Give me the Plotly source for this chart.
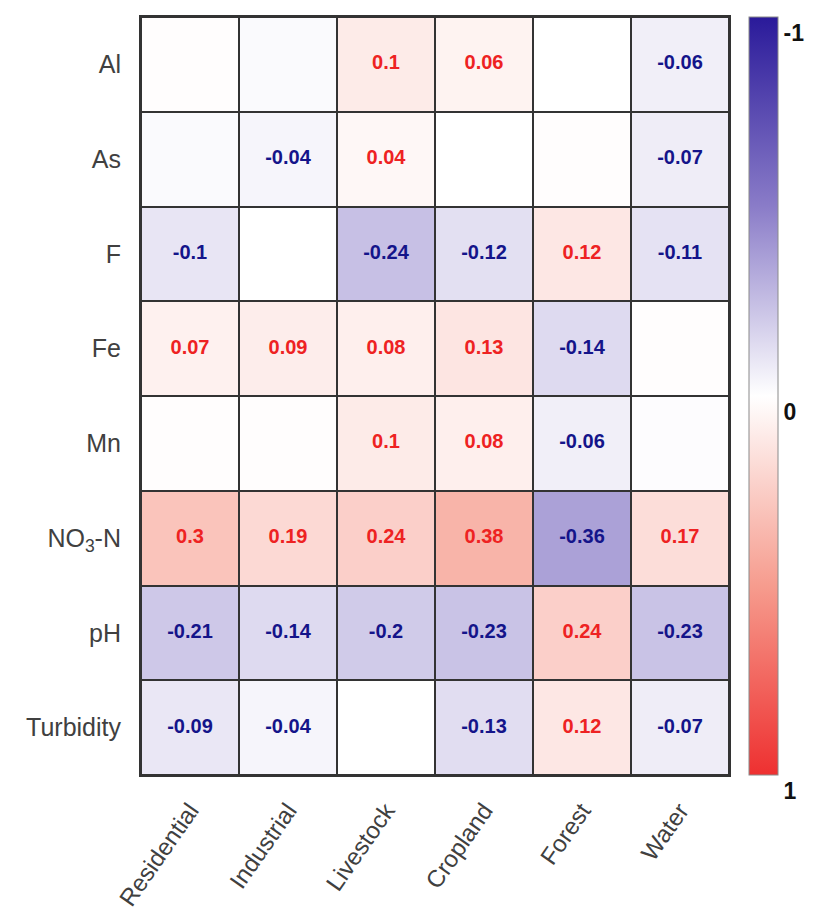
import plotly.graph_objects as go

land_use = ["Residential", "Industrial", "Livestock", "Cropland", "Forest", "Water"]
params = ["Al", "As", "F", "Fe", "Mn", "NO<sub>3</sub>-N", "pH", "Turbidity"]

# correlation values (rows = params, cols = land_use); blank cells carry small non-significant values
corr = [
    [0.01, -0.02, 0.10, 0.06, 0.00, -0.06],
    [-0.02, -0.04, 0.04, 0.00, 0.01, -0.07],
    [-0.10, 0.00, -0.24, -0.12, 0.12, -0.11],
    [0.07, 0.09, 0.08, 0.13, -0.14, 0.01],
    [0.01, 0.01, 0.10, 0.08, -0.06, -0.01],
    [0.30, 0.19, 0.24, 0.38, -0.36, 0.17],
    [-0.21, -0.14, -0.20, -0.23, 0.24, -0.23],
    [-0.09, -0.04, 0.00, -0.13, 0.12, -0.07],
]
# whether each value is labelled in the cell
shown = [
    [0, 0, 1, 1, 0, 1],
    [0, 1, 1, 0, 0, 1],
    [1, 0, 1, 1, 1, 1],
    [1, 1, 1, 1, 1, 0],
    [0, 0, 1, 1, 1, 0],
    [1, 1, 1, 1, 1, 1],
    [1, 1, 1, 1, 1, 1],
    [1, 1, 0, 1, 1, 1],
]
cbar_vals = [-1, 0, 1]

# colorbar shows -1 at top, so the heatmap is drawn on the flipped sign
zflip = [[-v for v in row] for row in corr]
colorscale = [
    [0.0, "#ee3030"],
    [0.25, "#f69c8e"],
    [0.5, "#ffffff"],
    [0.75, "#8a7cc8"],
    [1.0, "#2a1a9a"],
]

fig = go.Figure()
fig.add_trace(go.Heatmap(
    z=zflip, x=land_use, y=params, customdata=corr,
    zmin=-1, zmax=1, colorscale=colorscale,
    xgap=2, ygap=2,
    hovertemplate="%{y} / %{x}: %{customdata}<extra></extra>",
    colorbar=dict(
        x=1.034, xanchor="left", y=0.5, yanchor="middle",
        len=1.0, lenmode="fraction", thickness=29, ypad=0, xpad=0,
        outlinecolor="#8a8a8a", outlinewidth=1,
        tickvals=[-v for v in cbar_vals], ticktext=[str(v) for v in cbar_vals],
        ticks="", ticklabelposition="outside bottom", ticklabeloverflow="allow",
        tickfont=dict(family="Arial, Liberation Sans", size=23, color="#111111", weight="bold"),
    ),
))

pos_x, pos_y, pos_t, neg_x, neg_y, neg_t = [], [], [], [], [], []
for i, p in enumerate(params):
    for j, lu in enumerate(land_use):
        if not shown[i][j]:
            continue
        v = corr[i][j]
        lab = f"{v:g}"
        if v >= 0:
            pos_x.append(lu); pos_y.append(p); pos_t.append(lab)
        else:
            neg_x.append(lu); neg_y.append(p); neg_t.append(lab)

fig.add_trace(go.Scatter(
    x=pos_x, y=pos_y, text=pos_t, mode="text", hoverinfo="skip", showlegend=False,
    textfont=dict(family="Arial, Liberation Sans", size=20, color="#ee2222", weight="bold"),
))
fig.add_trace(go.Scatter(
    x=neg_x, y=neg_y, text=neg_t, mode="text", hoverinfo="skip", showlegend=False,
    textfont=dict(family="Arial, Liberation Sans", size=20, color="#14148a", weight="bold"),
))

fig.update_xaxes(
    categoryorder="array", categoryarray=land_use, tickangle=-55,
    showgrid=False, zeroline=False, showline=True, mirror=True,
    linecolor="#333333", linewidth=2, ticks="", ticklabelstandoff=10,
    tickfont=dict(family="Arial, Liberation Sans", size=24, color="#404040"),
)
fig.update_yaxes(
    categoryorder="array", categoryarray=params, autorange="reversed",
    showgrid=False, zeroline=False, showline=True, mirror=True,
    linecolor="#333333", linewidth=2, ticks="", ticklabelstandoff=13,
    tickfont=dict(family="Arial, Liberation Sans", size=25, color="#404040"),
)
fig.update_layout(
    width=825, height=912,
    margin=dict(l=133, r=104, t=7, b=145),
    plot_bgcolor="#333333", paper_bgcolor="white",
    showlegend=False,
)
fig.write_html("out.html")
